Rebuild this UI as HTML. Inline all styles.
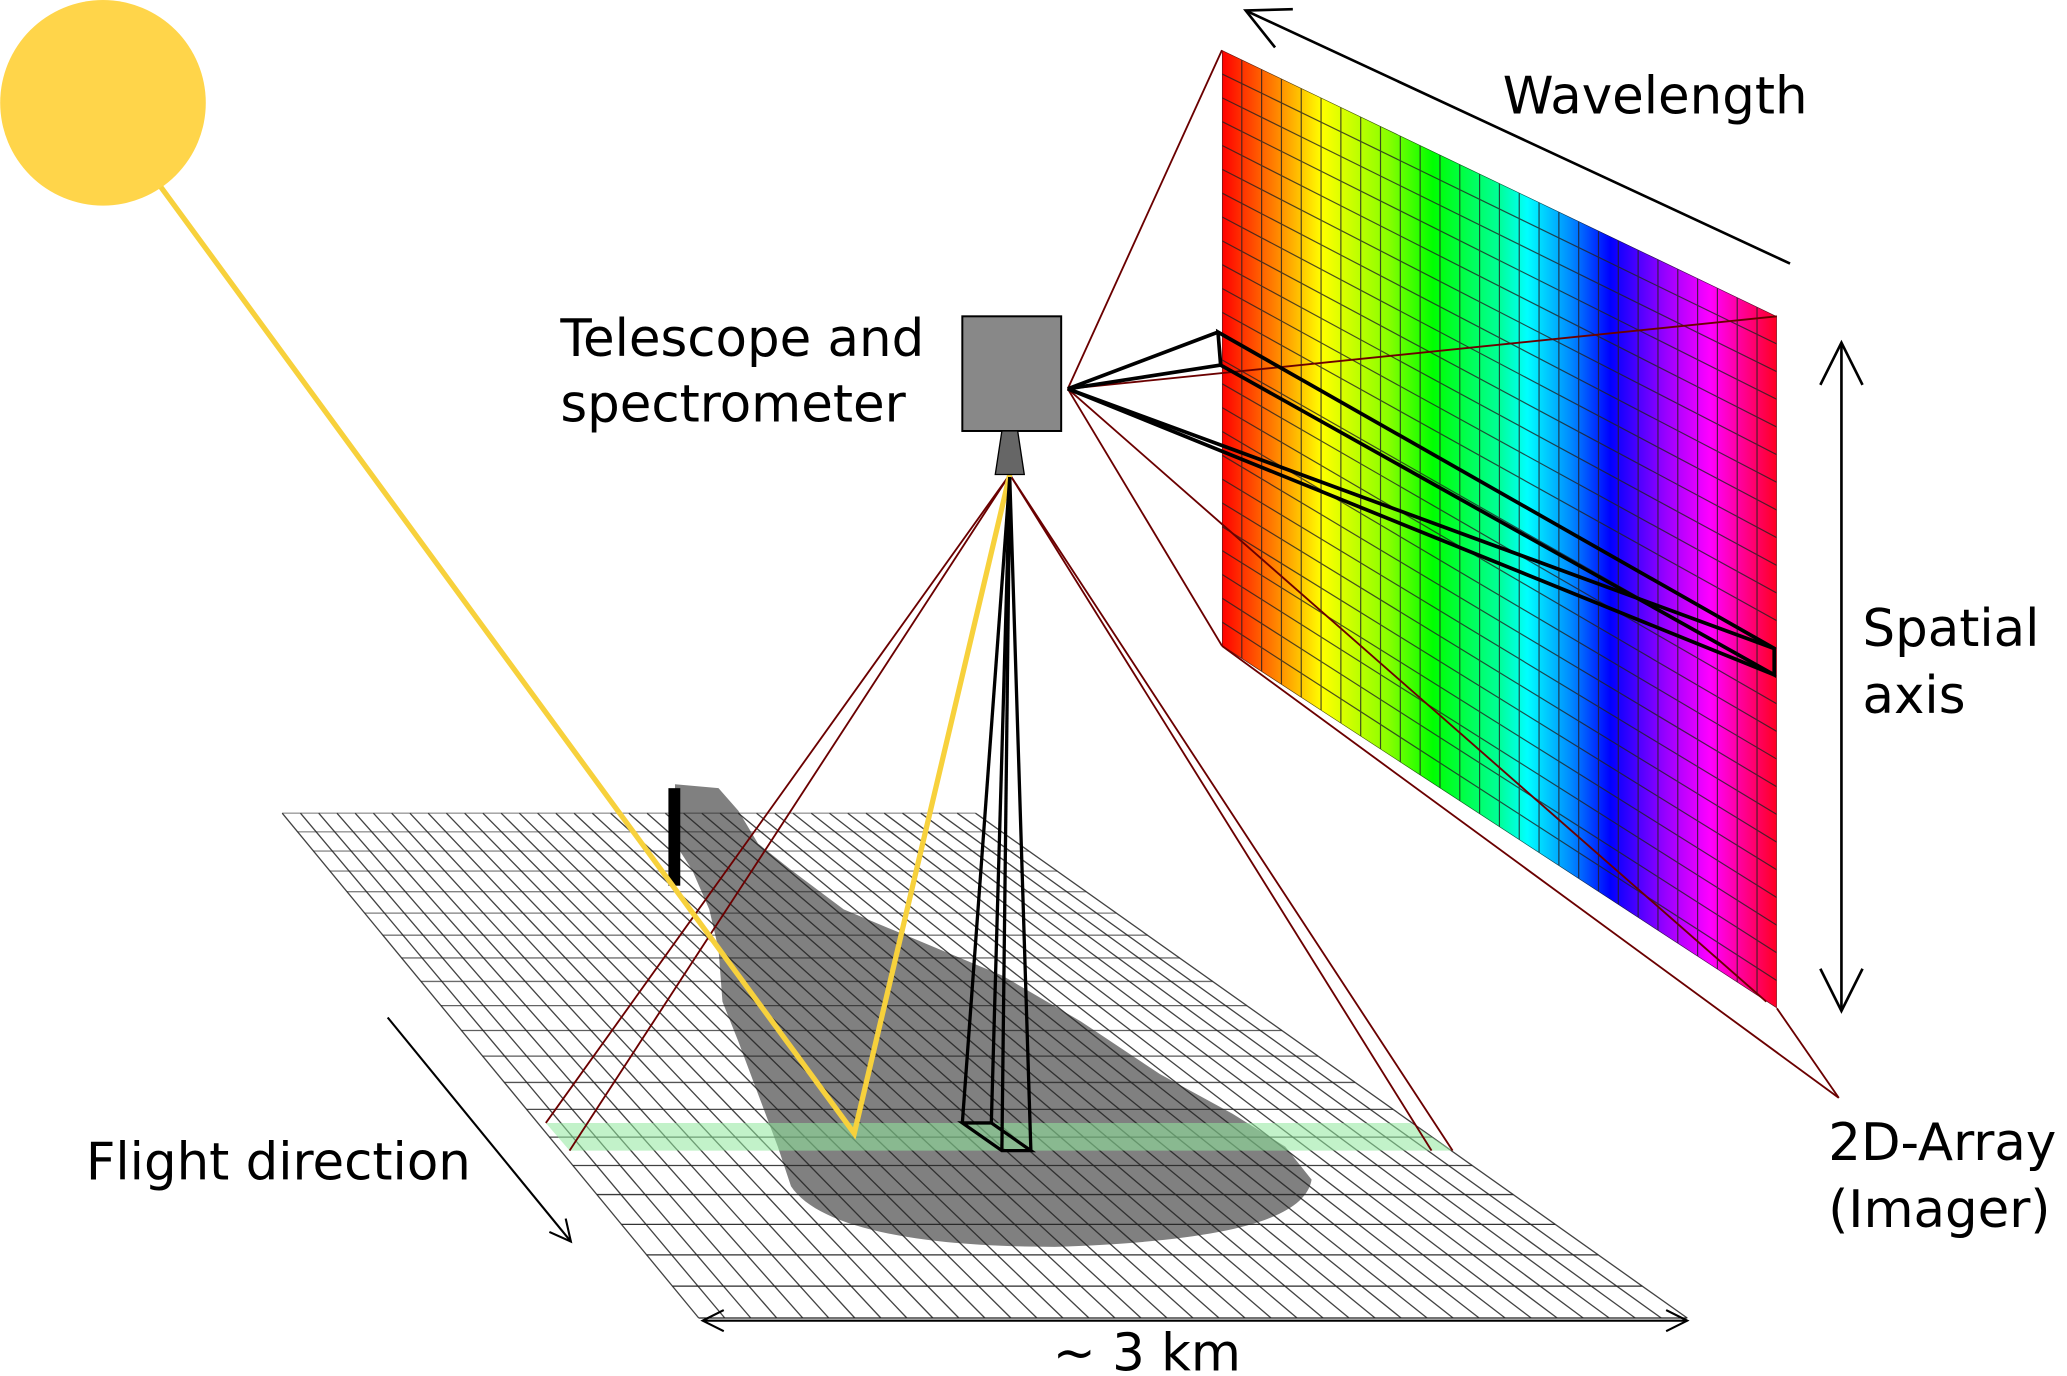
<!DOCTYPE html>
<html><head><meta charset="utf-8"><style>html,body{margin:0;padding:0;background:#fff}svg{display:block}</style></head><body>
<svg width="2067" height="1376" viewBox="0 0 1568 1044" xmlns="http://www.w3.org/2000/svg" font-family="DejaVu Sans, Liberation Sans, sans-serif">
<defs>
<linearGradient id="rb" x1="927" y1="0" x2="1348" y2="0" gradientUnits="userSpaceOnUse">
<stop offset="0" stop-color="#ff0000"/><stop offset="0.1" stop-color="#ff8800"/><stop offset="0.18" stop-color="#ffff00"/><stop offset="0.3" stop-color="#88ff00"/><stop offset="0.38" stop-color="#00ff00"/><stop offset="0.5" stop-color="#00ff99"/><stop offset="0.55" stop-color="#00ffff"/><stop offset="0.63" stop-color="#0088ff"/><stop offset="0.7" stop-color="#0000ff"/><stop offset="0.8" stop-color="#9900ff"/><stop offset="0.88" stop-color="#ff00ff"/><stop offset="1" stop-color="#ff0022"/>
</linearGradient>
<clipPath id="pc"><polygon points="927,38 1348,240 1348,765 927,490"/></clipPath>
<marker id="ah" markerWidth="20" markerHeight="20" refX="18" refY="10" orient="auto-start-reverse" markerUnits="userSpaceOnUse"><path d="M2,2 L18,10 L2,18" fill="none" stroke="#000" stroke-width="1.6"/></marker>
<marker id="ah2" markerWidth="40" markerHeight="40" refX="36" refY="20" orient="auto-start-reverse" markerUnits="userSpaceOnUse"><path d="M4,4 L36,20 L4,36" fill="none" stroke="#000" stroke-width="2"/></marker>
</defs>

<circle cx="78" cy="78" r="78" fill="#ffd54a"/>

<path d="M512,595 L545,598 L560,615 L575,640 L600,660 L640,690 L700,715 L760,740 L820,775 L880,815 L935,845 L975,870 L995,895 C990,925 930,942 800,946 C690,946 620,930 600,900 L590,870 L575,830 L560,790 L548,760 L545,720 L538,690 L525,660 L512,640 Z" fill="#808080"/>

<g stroke="#222" stroke-width="1" id="grid"></g>

<polygon points="414,852 1070,852 1102,873 432,873" fill="#8fe89c" opacity="0.55"/>

<rect x="507" y="598" width="9" height="74" fill="#000"/>

<g stroke="#6b0000" stroke-width="1.4" fill="none">
<line x1="766" y1="360" x2="414" y2="852"/>
<line x1="766" y1="360" x2="432" y2="873"/>
<line x1="766" y1="360" x2="1086" y2="873"/>
<line x1="766" y1="360" x2="1102" y2="873"/>
</g>

<polyline points="122,142 648,860 766,360" fill="none" stroke="#f7d13c" stroke-width="4"/>

<g stroke="#000" stroke-width="2.5" fill="none">
<line x1="766" y1="362" x2="730" y2="852"/>
<line x1="766" y1="362" x2="752" y2="852"/>
<line x1="766" y1="362" x2="760" y2="873"/>
<line x1="766" y1="362" x2="782" y2="873"/>
<polygon points="730,852 760,873 782,873 752,852"/>
</g>

<rect x="730" y="240" width="75" height="87" fill="#888" stroke="#000" stroke-width="1.5"/>
<polygon points="760,327 772,327 777,360 755,360" fill="#666" stroke="#000" stroke-width="1"/>

<polygon points="927,38 1348,240 1348,765 927,490" fill="url(#rb)"/>
<g clip-path="url(#pc)" stroke="#222" stroke-width="0.9" opacity="0.8" id="pgrid"></g>

<g stroke="#6b0000" stroke-width="1.4" fill="none">
<line x1="810" y1="295" x2="927" y2="38"/>
<line x1="810" y1="295" x2="1348" y2="240"/>
<line x1="810" y1="295" x2="1340" y2="760"/>
<line x1="810" y1="295" x2="927" y2="490"/>
<line x1="927" y1="490" x2="1395" y2="833"/>
<line x1="1348" y1="765" x2="1395" y2="833"/>
</g>

<g stroke="#000" stroke-width="2.8" fill="none">
<line x1="810" y1="295" x2="924" y2="252"/>
<line x1="810" y1="295" x2="926" y2="277"/>
<line x1="810" y1="295" x2="1346" y2="492"/>
<line x1="810" y1="295" x2="1346" y2="512"/>
<polygon points="924,252 1346,492 1346,512 926,277"/>
</g>

<g stroke="#000" stroke-width="2" fill="none">
<line x1="1358" y1="200" x2="945" y2="8" marker-end="url(#ah2)"/>
<line x1="1397" y1="260" x2="1397" y2="767" marker-start="url(#ah2)" marker-end="url(#ah2)"/>
<line x1="294" y1="772" x2="433" y2="942" stroke-width="1.6" marker-end="url(#ah)"/>
<line x1="533" y1="1002" x2="1280" y2="1002" stroke-width="1.6" marker-start="url(#ah)" marker-end="url(#ah)"/>
</g>

<g font-size="39" fill="#000">
<text x="1140" y="86">Wavelength</text>
<text x="425" y="270">Telescope and</text>
<text x="425" y="320">spectrometer</text>
<text x="1413" y="490">Spatial</text>
<text x="1413" y="541">axis</text>
<text x="65" y="895">Flight direction</text>
<text x="1387" y="880">2D-Array</text>
<text x="1387" y="931">(Imager)</text>
<text x="870" y="1040" text-anchor="middle">~ 3 km</text>
</g>

<script>
(function(){
var ns="http://www.w3.org/2000/svg";
function L(g,x1,y1,x2,y2,extra){var l=document.createElementNS(ns,"line");l.setAttribute("x1",x1);l.setAttribute("y1",y1);l.setAttribute("x2",x2);l.setAttribute("y2",y2);if(extra)for(var k in extra)l.setAttribute(k,extra[k]);g.appendChild(l);}
var g=document.getElementById("grid");
var TL=[214,617],TR=[740,617],BL=[530,1000],BR=[1280,1000];
var rows=20,cols=38,a=0.722;
for(var i=0;i<=rows;i++){var t=i/rows;var f=t*(a+(1-a)*t);
 var ay=617+383*f;
 var ax=TL[0]+(BL[0]-TL[0])*f,bx=TR[0]+(BR[0]-TR[0])*f;
 L(g,ax,ay,bx,ay,{"stroke-opacity":(0.45+0.55*t).toFixed(2)});}
for(var j=0;j<=cols;j++){var s=j/cols;
 var ax=TL[0]+(TR[0]-TL[0])*s,bx=BL[0]+(BR[0]-BL[0])*s;
 L(g,ax,617,bx,1000,{"stroke-opacity":"0.85"});}
var p=document.getElementById("pgrid");
var nc=28,nr=25;
for(var j=0;j<=nc;j++){var x=927+421*j/nc;L(p,x,0,x,800);}
for(var i=-2;i<=nr+2;i++){var t=i/nr;var y1=38+452*t,y2=240+525*t;L(p,927,y1,1348,y2);}
})();
</script>
</svg>
</body></html>
